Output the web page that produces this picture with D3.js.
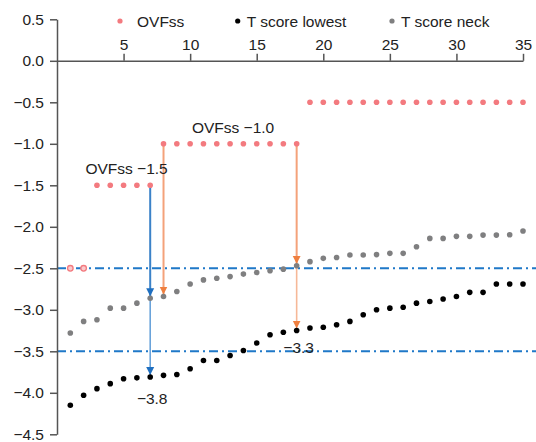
<!DOCTYPE html>
<html><head><meta charset="utf-8">
<script src="https://cdn.jsdelivr.net/npm/d3@7"></script>
<style>
body{margin:0;background:#fff}
svg{display:block}
text{font-family:"Liberation Sans",Arial,Helvetica,sans-serif;fill:#222}
</style>
</head><body>
<svg id="c" width="536" height="442"></svg>
<script>
// ---------- data ----------
const patients = [1,2,3,4,5,6,7,8,9,10,11,12,13,14,15,16,17,18,19,20,21,22,23,24,25,26,27,28,29,30,31,32,33,34,35];
const ovfss = [-2.5,-2.5,-1.5,-1.5,-1.5,-1.5,-1.5,-1.0,-1.0,-1.0,-1.0,-1.0,-1.0,-1.0,-1.0,-1.0,-1.0,-1.0,
  -0.5,-0.5,-0.5,-0.5,-0.5,-0.5,-0.5,-0.5,-0.5,-0.5,-0.5,-0.5,-0.5,-0.5,-0.5,-0.5,-0.5];
const tLowest = [-4.15,-4.03,-3.95,-3.89,-3.83,-3.82,-3.81,-3.79,-3.78,-3.71,-3.61,-3.61,-3.55,-3.49,-3.40,-3.30,-3.27,-3.25,
  -3.22,-3.21,-3.18,-3.14,-3.06,-3.00,-2.98,-2.97,-2.92,-2.90,-2.87,-2.84,-2.79,-2.79,-2.69,-2.69,-2.69];
const tNeck = [-3.28,-3.14,-3.12,-2.98,-2.98,-2.92,-2.86,-2.84,-2.78,-2.69,-2.64,-2.62,-2.60,-2.57,-2.55,-2.53,-2.51,-2.47,
  -2.42,-2.38,-2.37,-2.34,-2.34,-2.335,-2.32,-2.32,-2.24,-2.14,-2.14,-2.115,-2.115,-2.10,-2.10,-2.095,-2.05];
const seriesNames = ["OVFss","T score lowest","T score neck"];
const xTicks = [5,10,15,20,25,30,35];
const yTicks = [0.5,0.0,-0.5,-1.0,-1.5,-2.0,-2.5,-3.0,-3.5,-4.0,-4.5];
const thresholds = [-2.5,-3.5];
// arrows: patient index, chain of series it links
const arrowPatients = [7,8,18];
const arrowChains = [["OVFss","T score neck","T score lowest"],["OVFss","T score neck"],["OVFss","T score neck","T score lowest"]];
const groupLabels = ["OVFss \u22121.5","OVFss \u22121.0"];
const groupLabelPatients = [5,13];
const valueLabels = ["\u22123.8","\u22123.3"];
const valueLabelPatients = [7,18];

// ---------- setup ----------
const svg = d3.select("#c");
const x = d3.scaleLinear().domain([0,35]).range([57,523]);
const y = d3.scaleLinear().domain([-4.5,0.5]).range([434.3,19.3]);
const seriesData = {"OVFss":ovfss,"T score lowest":tLowest,"T score neck":tNeck};
const colors = {"OVFss":"#f37a7f","T score lowest":"#000000","T score neck":"#7f7f80"};
const fs = 15.5;

// threshold lines
svg.selectAll("line.thr").data(thresholds).join("line")
  .attr("x1",x(0)).attr("x2",536).attr("y1",d=>y(d)).attr("y2",d=>y(d))
  .attr("stroke","#1f78c8").attr("stroke-width",2).attr("stroke-dasharray","9,4,2,4");

// axes
const fmt = d3.format(".1f");
const yAxis = svg.append("g").attr("transform",`translate(${x(0)},0)`)
  .call(d3.axisLeft(y).tickValues(yTicks).tickSize(7).tickSizeOuter(0).tickPadding(6).tickFormat(fmt));
const xAxis = svg.append("g").attr("transform",`translate(0,${y(0)})`)
  .call(d3.axisTop(x).tickValues(xTicks).tickSize(7).tickSizeOuter(0).tickPadding(4));
[xAxis,yAxis].forEach(g=>{
  g.selectAll("path,line").attr("stroke","#555").attr("stroke-width",1.5);
  g.selectAll("text").attr("font-size",fs).attr("fill","#222").attr("font-family",'"Liberation Sans",Arial,sans-serif');
});

// arrows
const defs = svg.append("defs");
function marker(id,color){
  defs.append("marker").attr("id",id).attr("viewBox","0 0 10 10").attr("refX",10).attr("refY",5)
    .attr("markerWidth",8).attr("markerHeight",9).attr("markerUnits","userSpaceOnUse").attr("orient","auto")
    .append("path").attr("d","M0,0L10,5L0,10Z").attr("fill",color);
}
marker("hb","#1f6fc0"); marker("ho","#ef7f3f");
arrowPatients.forEach((p,k)=>{
  const chain = arrowChains[k];
  const blue = k===0;
  for(let s=0;s<chain.length-1;s++){
    const v0 = seriesData[chain[s]][p-1], v1 = seriesData[chain[s+1]][p-1];
    svg.append("line").attr("x1",x(p)).attr("x2",x(p))
      .attr("y1",y(v0)).attr("y2",y(v1)-2)
      .attr("stroke", blue ? (s===0?"#3b82c8":"#6aa3da") : (s===0?"#f4a27a":"#f6b898"))
      .attr("stroke-width", s===0?2:1.6)
      .attr("marker-end", blue?"url(#hb)":"url(#ho)");
  }
});

// points
seriesNames.forEach(name=>{
  svg.append("g").selectAll("circle").data(patients).join("circle")
    .attr("cx",d=>x(d)).attr("cy",(d,i)=>y(seriesData[name][i]))
    .attr("r",2.8).attr("fill",(d,i)=> name==="OVFss" && thresholds.includes(seriesData[name][i]) ? "#fbc9cc" : colors[name])
    .attr("stroke",(d,i)=> name==="OVFss" && thresholds.includes(seriesData[name][i]) ? colors[name] : "none")
    .attr("stroke-width",1.3);
});

// labels
groupLabels.forEach((t,i)=>{
  const p = groupLabelPatients[i];
  svg.append("text").attr("x",x(p)+3).attr("y",y(ovfss[p-1])-11)
    .attr("text-anchor","middle").attr("font-size",fs).text(t);
});
valueLabels.forEach((t,i)=>{
  const p = valueLabelPatients[i];
  svg.append("text").attr("x",x(p)+2).attr("y",y(tLowest[p-1])+(i===0?27:22))
    .attr("text-anchor","middle").attr("font-size",fs).text(t);
});

// legend
const legX = [120,237.7,392];
const legGap = [17,9,9];
seriesNames.forEach((name,i)=>{
  svg.append("circle").attr("cx",legX[i]).attr("cy",21).attr("r",2.6).attr("fill",colors[name]);
  svg.append("text").attr("x",legX[i]+legGap[i]).attr("y",26.5).attr("font-size",fs).text(name);
});
</script>
</body></html>
